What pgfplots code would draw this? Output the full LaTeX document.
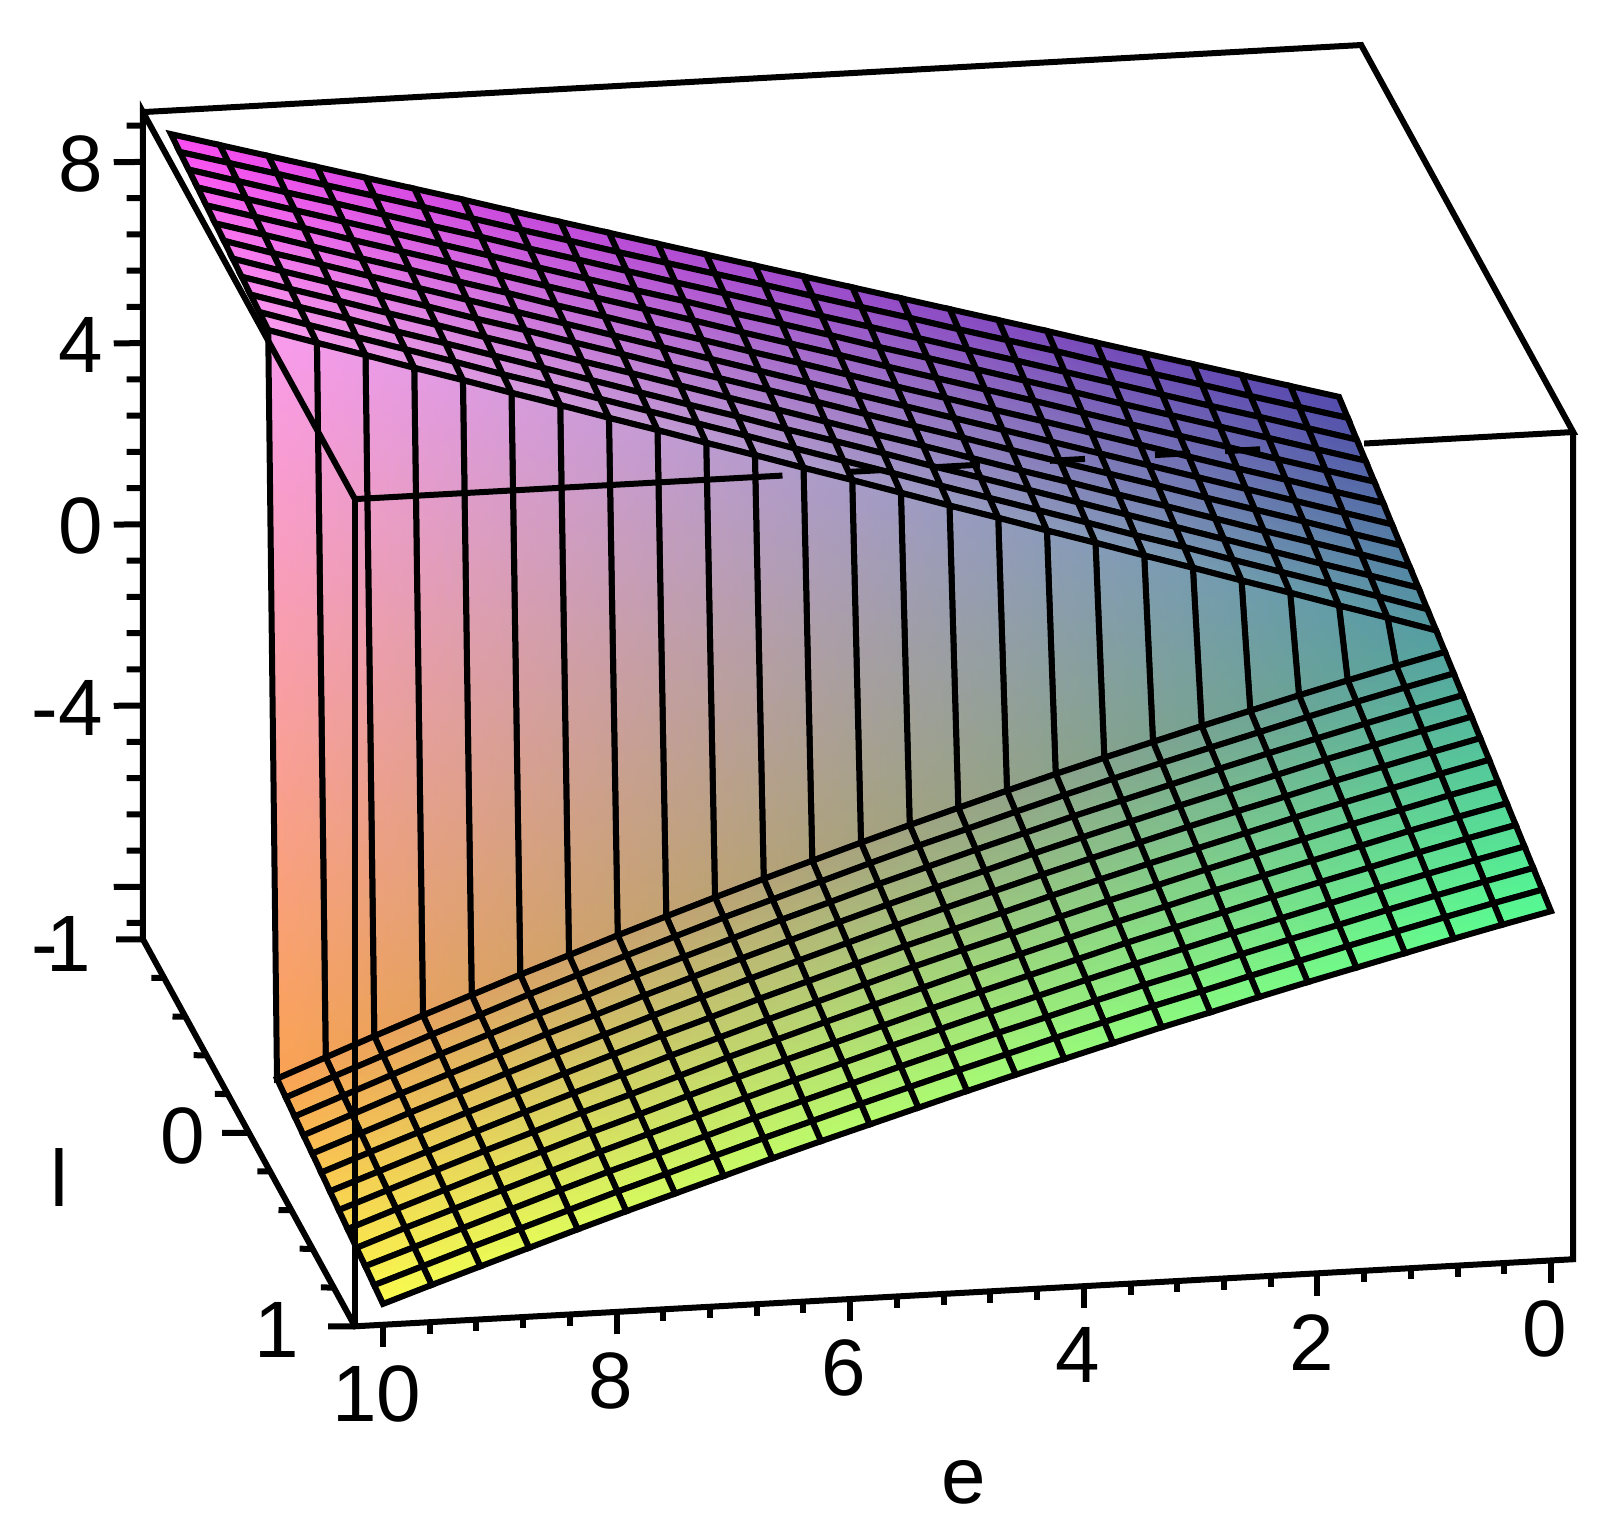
\documentclass[border=0pt]{standalone}
\usepackage{pgfplots}
\pgfplotsset{compat=1.18}
\usepackage{fontspec}
\setmainfont{Liberation Sans}
\begin{document}
\begin{tikzpicture}
\useasboundingbox (0,0) rectangle (807.5pt,768pt);
\begin{axis}[
    at={(722.5pt,442pt)}, anchor=origin,
    x={(-58.4pt,-3.215pt)}, y={(53pt,-96.75pt)}, z={(0pt,22.65pt)},
    xmin=-0.19, xmax=10.24, ymin=-1, ymax=1, zmin=-9.16, zmax=9.1,
    clip=false,
    axis line style={draw=none},
    /pgf/number format/assume math mode=true,
    tick style={draw=none},
    major tick length=0pt,
    xtick={0,2,...,10}, ytick={-1,0,1}, ztick={-8,-4,0,4,8},
    zticklabels={,-4,0,4,8},
    yticklabels={\raisebox{-2pt}{-\kern-6pt 1\hspace{6pt}},\raisebox{-1pt}{0\hspace{2pt}},\raisebox{-1.5pt}{1\hspace{8pt}}},
    tick label style={font=\fontsize{40}{44}\selectfont,inner sep=0pt},
    xticklabel style={anchor=center,xshift=-3pt,yshift=-34.5pt},
    yticklabel style={anchor=base east,xshift=-20pt,yshift=-14.3pt},
    zticklabel style={anchor=east,xshift=-20pt,yshift=-1pt},
    xlabel={e}, ylabel={l},
    label style={font=\fontsize{40}{44}\selectfont,inner sep=0pt},
    xlabel style={at={(rel axis cs:0.5,1,0)},anchor=center,xshift=0pt,yshift=-95pt},
    ylabel style={at={(rel axis cs:1,0.5,0)},anchor=center,rotate=0,xshift=-95pt,yshift=-22.5pt},
    unbounded coords=jump,
]
\addplot3[surf, shader=faceted interp, faceted color=black, line width=3pt,
    mesh/rows=25, mesh/color input=explicit mathparse,
    point meta={symbolic={(85+16.5*x)/255,(162+88*y)/255,(160+9.5*z)/255}}]
table[row sep=\\]{
x y z\\
0 -1 1.36\\0 -0.917 1.25\\0 -0.833 1.13\\0 -0.75 1.02\\0 -0.667 0.91\\0 -0.583 0.80\\0 -0.5 0.68\\0 -0.417 0.57\\0 -0.333 0.46\\0 -0.25 0.35\\0 -0.167 0.23\\0 -0.083 0.12\\0 0 0\\0 0.083 -0.12\\0 0.167 -0.24\\0 0.25 -0.36\\0 0.333 -0.48\\0 0.417 -0.60\\0 0.5 -0.73\\0 0.583 -0.85\\0 0.667 -0.97\\0 0.75 -1.09\\0 0.833 -1.21\\0 0.917 -1.33\\0 1 -1.45\\
0.417 -1 1.66\\0.417 -0.917 1.55\\0.417 -0.833 1.44\\0.417 -0.75 1.33\\0.417 -0.667 1.22\\0.417 -0.583 1.11\\0.417 -0.5 1.00\\0.417 -0.417 0.89\\0.417 -0.333 0.79\\0.417 -0.25 0.68\\0.417 -0.167 0.57\\0.417 -0.083 0.46\\0.417 0 -0.25\\0.417 0.083 -0.37\\0.417 0.167 -0.49\\0.417 0.25 -0.61\\0.417 0.333 -0.73\\0.417 0.417 -0.85\\0.417 0.5 -0.97\\0.417 0.583 -1.09\\0.417 0.667 -1.21\\0.417 0.75 -1.33\\0.417 0.833 -1.45\\0.417 0.917 -1.57\\0.417 1 -1.69\\
0.833 -1 1.96\\0.833 -0.917 1.85\\0.833 -0.833 1.75\\0.833 -0.75 1.64\\0.833 -0.667 1.53\\0.833 -0.583 1.43\\0.833 -0.5 1.32\\0.833 -0.417 1.22\\0.833 -0.333 1.11\\0.833 -0.25 1.00\\0.833 -0.167 0.90\\0.833 -0.083 0.79\\0.833 0 -0.51\\0.833 0.083 -0.63\\0.833 0.167 -0.75\\0.833 0.25 -0.87\\0.833 0.333 -0.99\\0.833 0.417 -1.11\\0.833 0.5 -1.23\\0.833 0.583 -1.34\\0.833 0.667 -1.46\\0.833 0.75 -1.58\\0.833 0.833 -1.70\\0.833 0.917 -1.82\\0.833 1 -1.94\\
1.25 -1 2.26\\1.25 -0.917 2.16\\1.25 -0.833 2.05\\1.25 -0.75 1.95\\1.25 -0.667 1.85\\1.25 -0.583 1.74\\1.25 -0.5 1.64\\1.25 -0.417 1.54\\1.25 -0.333 1.43\\1.25 -0.25 1.33\\1.25 -0.167 1.23\\1.25 -0.083 1.13\\1.25 0 -0.78\\1.25 0.083 -0.90\\1.25 0.167 -1.02\\1.25 0.25 -1.13\\1.25 0.333 -1.25\\1.25 0.417 -1.37\\1.25 0.5 -1.49\\1.25 0.583 -1.61\\1.25 0.667 -1.73\\1.25 0.75 -1.84\\1.25 0.833 -1.96\\1.25 0.917 -2.08\\1.25 1 -2.20\\
1.667 -1 2.56\\1.667 -0.917 2.46\\1.667 -0.833 2.36\\1.667 -0.75 2.26\\1.667 -0.667 2.16\\1.667 -0.583 2.06\\1.667 -0.5 1.96\\1.667 -0.417 1.86\\1.667 -0.333 1.76\\1.667 -0.25 1.66\\1.667 -0.167 1.56\\1.667 -0.083 1.46\\1.667 0 -1.06\\1.667 0.083 -1.18\\1.667 0.167 -1.29\\1.667 0.25 -1.41\\1.667 0.333 -1.53\\1.667 0.417 -1.64\\1.667 0.5 -1.76\\1.667 0.583 -1.88\\1.667 0.667 -1.99\\1.667 0.75 -2.11\\1.667 0.833 -2.23\\1.667 0.917 -2.34\\1.667 1 -2.46\\
2.083 -1 2.86\\2.083 -0.917 2.76\\2.083 -0.833 2.67\\2.083 -0.75 2.57\\2.083 -0.667 2.47\\2.083 -0.583 2.38\\2.083 -0.5 2.28\\2.083 -0.417 2.19\\2.083 -0.333 2.09\\2.083 -0.25 1.99\\2.083 -0.167 1.90\\2.083 -0.083 1.80\\2.083 0 -1.34\\2.083 0.083 -1.46\\2.083 0.167 -1.57\\2.083 0.25 -1.69\\2.083 0.333 -1.80\\2.083 0.417 -1.92\\2.083 0.5 -2.03\\2.083 0.583 -2.15\\2.083 0.667 -2.26\\2.083 0.75 -2.38\\2.083 0.833 -2.49\\2.083 0.917 -2.61\\2.083 1 -2.72\\
2.5 -1 3.17\\2.5 -0.917 3.08\\2.5 -0.833 2.98\\2.5 -0.75 2.89\\2.5 -0.667 2.79\\2.5 -0.583 2.70\\2.5 -0.5 2.60\\2.5 -0.417 2.51\\2.5 -0.333 2.41\\2.5 -0.25 2.32\\2.5 -0.167 2.22\\2.5 -0.083 2.13\\2.5 0 -1.63\\2.5 0.083 -1.74\\2.5 0.167 -1.86\\2.5 0.25 -1.97\\2.5 0.333 -2.08\\2.5 0.417 -2.20\\2.5 0.5 -2.31\\2.5 0.583 -2.42\\2.5 0.667 -2.54\\2.5 0.75 -2.65\\2.5 0.833 -2.76\\2.5 0.917 -2.88\\2.5 1 -2.99\\
2.917 -1 3.47\\2.917 -0.917 3.38\\2.917 -0.833 3.29\\2.917 -0.75 3.20\\2.917 -0.667 3.11\\2.917 -0.583 3.02\\2.917 -0.5 2.92\\2.917 -0.417 2.83\\2.917 -0.333 2.74\\2.917 -0.25 2.65\\2.917 -0.167 2.56\\2.917 -0.083 2.47\\2.917 0 -1.92\\2.917 0.083 -2.03\\2.917 0.167 -2.15\\2.917 0.25 -2.26\\2.917 0.333 -2.37\\2.917 0.417 -2.48\\2.917 0.5 -2.60\\2.917 0.583 -2.71\\2.917 0.667 -2.82\\2.917 0.75 -2.93\\2.917 0.833 -3.05\\2.917 0.917 -3.16\\2.917 1 -3.27\\
3.333 -1 3.77\\3.333 -0.917 3.68\\3.333 -0.833 3.59\\3.333 -0.75 3.51\\3.333 -0.667 3.42\\3.333 -0.583 3.33\\3.333 -0.5 3.24\\3.333 -0.417 3.15\\3.333 -0.333 3.06\\3.333 -0.25 2.98\\3.333 -0.167 2.89\\3.333 -0.083 2.80\\3.333 0 -2.22\\3.333 0.083 -2.33\\3.333 0.167 -2.44\\3.333 0.25 -2.55\\3.333 0.333 -2.66\\3.333 0.417 -2.77\\3.333 0.5 -2.88\\3.333 0.583 -2.99\\3.333 0.667 -3.10\\3.333 0.75 -3.21\\3.333 0.833 -3.32\\3.333 0.917 -3.43\\3.333 1 -3.54\\
3.75 -1 4.07\\3.75 -0.917 3.99\\3.75 -0.833 3.90\\3.75 -0.75 3.82\\3.75 -0.667 3.73\\3.75 -0.583 3.65\\3.75 -0.5 3.56\\3.75 -0.417 3.48\\3.75 -0.333 3.39\\3.75 -0.25 3.31\\3.75 -0.167 3.22\\3.75 -0.083 3.14\\3.75 0 -2.53\\3.75 0.083 -2.64\\3.75 0.167 -2.75\\3.75 0.25 -2.85\\3.75 0.333 -2.96\\3.75 0.417 -3.07\\3.75 0.5 -3.18\\3.75 0.583 -3.29\\3.75 0.667 -3.40\\3.75 0.75 -3.50\\3.75 0.833 -3.61\\3.75 0.917 -3.72\\3.75 1 -3.83\\
4.167 -1 4.37\\4.167 -0.917 4.29\\4.167 -0.833 4.21\\4.167 -0.75 4.12\\4.167 -0.667 4.04\\4.167 -0.583 3.96\\4.167 -0.5 3.88\\4.167 -0.417 3.80\\4.167 -0.333 3.72\\4.167 -0.25 3.63\\4.167 -0.167 3.55\\4.167 -0.083 3.47\\4.167 0 -2.85\\4.167 0.083 -2.96\\4.167 0.167 -3.06\\4.167 0.25 -3.17\\4.167 0.333 -3.27\\4.167 0.417 -3.38\\4.167 0.5 -3.49\\4.167 0.583 -3.59\\4.167 0.667 -3.70\\4.167 0.75 -3.80\\4.167 0.833 -3.91\\4.167 0.917 -4.01\\4.167 1 -4.12\\
4.583 -1 4.67\\4.583 -0.917 4.59\\4.583 -0.833 4.51\\4.583 -0.75 4.44\\4.583 -0.667 4.36\\4.583 -0.583 4.28\\4.583 -0.5 4.20\\4.583 -0.417 4.12\\4.583 -0.333 4.04\\4.583 -0.25 3.97\\4.583 -0.167 3.89\\4.583 -0.083 3.81\\4.583 0 -3.17\\4.583 0.083 -3.27\\4.583 0.167 -3.38\\4.583 0.25 -3.48\\4.583 0.333 -3.58\\4.583 0.417 -3.69\\4.583 0.5 -3.79\\4.583 0.583 -3.89\\4.583 0.667 -4.00\\4.583 0.75 -4.10\\4.583 0.833 -4.20\\4.583 0.917 -4.31\\4.583 1 -4.41\\
5 -1 4.97\\5 -0.917 4.90\\5 -0.833 4.82\\5 -0.75 4.75\\5 -0.667 4.67\\5 -0.583 4.60\\5 -0.5 4.52\\5 -0.417 4.45\\5 -0.333 4.37\\5 -0.25 4.30\\5 -0.167 4.22\\5 -0.083 4.15\\5 0 -3.50\\5 0.083 -3.60\\5 0.167 -3.70\\5 0.25 -3.80\\5 0.333 -3.90\\5 0.417 -4.00\\5 0.5 -4.10\\5 0.583 -4.21\\5 0.667 -4.31\\5 0.75 -4.41\\5 0.833 -4.51\\5 0.917 -4.61\\5 1 -4.71\\
5.417 -1 5.27\\5.417 -0.917 5.20\\5.417 -0.833 5.13\\5.417 -0.75 5.05\\5.417 -0.667 4.98\\5.417 -0.583 4.91\\5.417 -0.5 4.84\\5.417 -0.417 4.77\\5.417 -0.333 4.70\\5.417 -0.25 4.62\\5.417 -0.167 4.55\\5.417 -0.083 4.48\\5.417 0 -3.84\\5.417 0.083 -3.94\\5.417 0.167 -4.04\\5.417 0.25 -4.13\\5.417 0.333 -4.23\\5.417 0.417 -4.33\\5.417 0.5 -4.43\\5.417 0.583 -4.53\\5.417 0.667 -4.63\\5.417 0.75 -4.72\\5.417 0.833 -4.82\\5.417 0.917 -4.92\\5.417 1 -5.02\\
5.833 -1 5.57\\5.833 -0.917 5.50\\5.833 -0.833 5.43\\5.833 -0.75 5.37\\5.833 -0.667 5.30\\5.833 -0.583 5.23\\5.833 -0.5 5.16\\5.833 -0.417 5.09\\5.833 -0.333 5.02\\5.833 -0.25 4.96\\5.833 -0.167 4.89\\5.833 -0.083 4.82\\5.833 0 -4.18\\5.833 0.083 -4.28\\5.833 0.167 -4.37\\5.833 0.25 -4.47\\5.833 0.333 -4.56\\5.833 0.417 -4.66\\5.833 0.5 -4.76\\5.833 0.583 -4.85\\5.833 0.667 -4.95\\5.833 0.75 -5.04\\5.833 0.833 -5.14\\5.833 0.917 -5.23\\5.833 1 -5.33\\
6.25 -1 5.87\\6.25 -0.917 5.80\\6.25 -0.833 5.74\\6.25 -0.75 5.67\\6.25 -0.667 5.61\\6.25 -0.583 5.54\\6.25 -0.5 5.48\\6.25 -0.417 5.41\\6.25 -0.333 5.35\\6.25 -0.25 5.28\\6.25 -0.167 5.22\\6.25 -0.083 5.15\\6.25 0 -4.53\\6.25 0.083 -4.62\\6.25 0.167 -4.72\\6.25 0.25 -4.81\\6.25 0.333 -4.90\\6.25 0.417 -4.99\\6.25 0.5 -5.09\\6.25 0.583 -5.18\\6.25 0.667 -5.27\\6.25 0.75 -5.36\\6.25 0.833 -5.46\\6.25 0.917 -5.55\\6.25 1 -5.64\\
6.667 -1 6.17\\6.667 -0.917 6.11\\6.667 -0.833 6.05\\6.667 -0.75 5.98\\6.667 -0.667 5.92\\6.667 -0.583 5.86\\6.667 -0.5 5.80\\6.667 -0.417 5.74\\6.667 -0.333 5.68\\6.667 -0.25 5.61\\6.667 -0.167 5.55\\6.667 -0.083 5.49\\6.667 0 -4.89\\6.667 0.083 -4.98\\6.667 0.167 -5.07\\6.667 0.25 -5.16\\6.667 0.333 -5.25\\6.667 0.417 -5.34\\6.667 0.5 -5.43\\6.667 0.583 -5.51\\6.667 0.667 -5.60\\6.667 0.75 -5.69\\6.667 0.833 -5.78\\6.667 0.917 -5.87\\6.667 1 -5.96\\
7.083 -1 6.47\\7.083 -0.917 6.41\\7.083 -0.833 6.35\\7.083 -0.75 6.29\\7.083 -0.667 6.23\\7.083 -0.583 6.17\\7.083 -0.5 6.12\\7.083 -0.417 6.06\\7.083 -0.333 6.00\\7.083 -0.25 5.94\\7.083 -0.167 5.88\\7.083 -0.083 5.82\\7.083 0 -5.25\\7.083 0.083 -5.34\\7.083 0.167 -5.42\\7.083 0.25 -5.51\\7.083 0.333 -5.60\\7.083 0.417 -5.68\\7.083 0.5 -5.77\\7.083 0.583 -5.86\\7.083 0.667 -5.94\\7.083 0.75 -6.03\\7.083 0.833 -6.12\\7.083 0.917 -6.20\\7.083 1 -6.29\\
7.5 -1 6.78\\7.5 -0.917 6.72\\7.5 -0.833 6.67\\7.5 -0.75 6.61\\7.5 -0.667 6.55\\7.5 -0.583 6.50\\7.5 -0.5 6.44\\7.5 -0.417 6.39\\7.5 -0.333 6.33\\7.5 -0.25 6.27\\7.5 -0.167 6.22\\7.5 -0.083 6.16\\7.5 0 -5.63\\7.5 0.083 -5.71\\7.5 0.167 -5.80\\7.5 0.25 -5.88\\7.5 0.333 -5.96\\7.5 0.417 -6.04\\7.5 0.5 -6.13\\7.5 0.583 -6.21\\7.5 0.667 -6.29\\7.5 0.75 -6.37\\7.5 0.833 -6.46\\7.5 0.917 -6.54\\7.5 1 -6.62\\
7.917 -1 7.08\\7.917 -0.917 7.03\\7.917 -0.833 6.97\\7.917 -0.75 6.92\\7.917 -0.667 6.87\\7.917 -0.583 6.81\\7.917 -0.5 6.76\\7.917 -0.417 6.70\\7.917 -0.333 6.65\\7.917 -0.25 6.60\\7.917 -0.167 6.54\\7.917 -0.083 6.49\\7.917 0 -6.00\\7.917 0.083 -6.08\\7.917 0.167 -6.16\\7.917 0.25 -6.24\\7.917 0.333 -6.32\\7.917 0.417 -6.40\\7.917 0.5 -6.48\\7.917 0.583 -6.55\\7.917 0.667 -6.63\\7.917 0.75 -6.71\\7.917 0.833 -6.79\\7.917 0.917 -6.87\\7.917 1 -6.95\\
8.333 -1 7.38\\8.333 -0.917 7.33\\8.333 -0.833 7.28\\8.333 -0.75 7.23\\8.333 -0.667 7.18\\8.333 -0.583 7.13\\8.333 -0.5 7.08\\8.333 -0.417 7.03\\8.333 -0.333 6.98\\8.333 -0.25 6.93\\8.333 -0.167 6.88\\8.333 -0.083 6.83\\8.333 0 -6.39\\8.333 0.083 -6.47\\8.333 0.167 -6.54\\8.333 0.25 -6.62\\8.333 0.333 -6.69\\8.333 0.417 -6.77\\8.333 0.5 -6.84\\8.333 0.583 -6.92\\8.333 0.667 -6.99\\8.333 0.75 -7.07\\8.333 0.833 -7.14\\8.333 0.917 -7.22\\8.333 1 -7.29\\
8.75 -1 7.68\\8.75 -0.917 7.63\\8.75 -0.833 7.59\\8.75 -0.75 7.54\\8.75 -0.667 7.49\\8.75 -0.583 7.44\\8.75 -0.5 7.40\\8.75 -0.417 7.35\\8.75 -0.333 7.30\\8.75 -0.25 7.25\\8.75 -0.167 7.21\\8.75 -0.083 7.16\\8.75 0 -6.78\\8.75 0.083 -6.85\\8.75 0.167 -6.92\\8.75 0.25 -7.00\\8.75 0.333 -7.07\\8.75 0.417 -7.14\\8.75 0.5 -7.21\\8.75 0.583 -7.28\\8.75 0.667 -7.35\\8.75 0.75 -7.43\\8.75 0.833 -7.50\\8.75 0.917 -7.57\\8.75 1 -7.64\\
9.167 -1 7.98\\9.167 -0.917 7.94\\9.167 -0.833 7.89\\9.167 -0.75 7.85\\9.167 -0.667 7.81\\9.167 -0.583 7.76\\9.167 -0.5 7.72\\9.167 -0.417 7.67\\9.167 -0.333 7.63\\9.167 -0.25 7.59\\9.167 -0.167 7.54\\9.167 -0.083 7.50\\9.167 0 -7.18\\9.167 0.083 -7.25\\9.167 0.167 -7.32\\9.167 0.25 -7.38\\9.167 0.333 -7.45\\9.167 0.417 -7.52\\9.167 0.5 -7.59\\9.167 0.583 -7.65\\9.167 0.667 -7.72\\9.167 0.75 -7.79\\9.167 0.833 -7.86\\9.167 0.917 -7.92\\9.167 1 -7.99\\
9.583 -1 8.28\\9.583 -0.917 8.24\\9.583 -0.833 8.20\\9.583 -0.75 8.16\\9.583 -0.667 8.12\\9.583 -0.583 8.08\\9.583 -0.5 8.03\\9.583 -0.417 7.99\\9.583 -0.333 7.95\\9.583 -0.25 7.91\\9.583 -0.167 7.87\\9.583 -0.083 7.83\\9.583 0 -7.59\\9.583 0.083 -7.65\\9.583 0.167 -7.72\\9.583 0.25 -7.78\\9.583 0.333 -7.84\\9.583 0.417 -7.90\\9.583 0.5 -7.97\\9.583 0.583 -8.03\\9.583 0.667 -8.09\\9.583 0.75 -8.15\\9.583 0.833 -8.22\\9.583 0.917 -8.28\\9.583 1 -8.34\\
10 -1 8.58\\10 -0.917 8.54\\10 -0.833 8.51\\10 -0.75 8.47\\10 -0.667 8.43\\10 -0.583 8.39\\10 -0.5 8.36\\10 -0.417 8.32\\10 -0.333 8.28\\10 -0.25 8.24\\10 -0.167 8.21\\10 -0.083 8.17\\10 0 -8.00\\10 0.083 -8.06\\10 0.167 -8.12\\10 0.25 -8.18\\10 0.333 -8.23\\10 0.417 -8.29\\10 0.5 -8.35\\10 0.583 -8.41\\10 0.667 -8.47\\10 0.75 -8.53\\10 0.833 -8.58\\10 0.917 -8.64\\10 1 -8.70\\
};
% box edges
\addplot3[black,line width=3pt,line join=miter] coordinates {
(10.24,-1,9.1) (-0.19,-1,9.1) (-0.19,1,9.1) (1.6,1,9.1)};
\addplot3[black,line width=3pt,line join=miter] coordinates {
(6.58,1,9.1) (10.24,1,9.1) (10.24,-1,9.1) (10.24,-1,-9.16) (10.24,1,-9.16) (-0.19,1,-9.16) (-0.19,1,9.1)};
% front top edge, where it shows through the upper sheet
\addplot3[black,line width=3pt] coordinates {
(6.00,1,9.1)(5.74,1,9.1)(nan,nan,nan)
(5.27,1,9.1)(4.89,1,9.1)(nan,nan,nan)
(4.29,1,9.1)(3.99,1,9.1)(nan,nan,nan)
(3.39,1,9.1)(3.09,1,9.1)(nan,nan,nan)
(2.79,1,9.1)(2.49,1,9.1)
};
\addplot3[black,line width=3pt] coordinates {(10.24,1,9.1) (10.24,1,-9.16)};
% z ticks
\addplot3[black,line width=3pt] coordinates {
(10.24,-1,8.8)(10.38,-1,8.82)(nan,nan,nan)
(10.24,-1,8)(10.49,-1,8.03)(nan,nan,nan)
(10.24,-1,7.2)(10.38,-1,7.22)(nan,nan,nan)
(10.24,-1,6.4)(10.38,-1,6.42)(nan,nan,nan)
(10.24,-1,5.6)(10.38,-1,5.62)(nan,nan,nan)
(10.24,-1,4.8)(10.38,-1,4.82)(nan,nan,nan)
(10.24,-1,4)(10.49,-1,4.03)(nan,nan,nan)
(10.24,-1,3.2)(10.38,-1,3.22)(nan,nan,nan)
(10.24,-1,2.4)(10.38,-1,2.42)(nan,nan,nan)
(10.24,-1,1.6)(10.38,-1,1.62)(nan,nan,nan)
(10.24,-1,0.8)(10.38,-1,0.82)(nan,nan,nan)
(10.24,-1,0)(10.49,-1,0.03)(nan,nan,nan)
(10.24,-1,-0.8)(10.38,-1,-0.78)(nan,nan,nan)
(10.24,-1,-1.6)(10.38,-1,-1.58)(nan,nan,nan)
(10.24,-1,-2.4)(10.38,-1,-2.38)(nan,nan,nan)
(10.24,-1,-3.2)(10.38,-1,-3.18)(nan,nan,nan)
(10.24,-1,-4)(10.49,-1,-3.97)(nan,nan,nan)
(10.24,-1,-4.8)(10.38,-1,-4.78)(nan,nan,nan)
(10.24,-1,-5.6)(10.38,-1,-5.58)(nan,nan,nan)
(10.24,-1,-6.4)(10.38,-1,-6.38)(nan,nan,nan)
(10.24,-1,-7.2)(10.38,-1,-7.18)(nan,nan,nan)
(10.24,-1,-8)(10.49,-1,-7.97)(nan,nan,nan)
(10.24,-1,-8.8)(10.38,-1,-8.78)
};
% l ticks
\addplot3[black,line width=3pt] coordinates {
(10.24,-1,-9.16)(10.47,-1,-9.13)(nan,nan,nan)
(10.24,-0.8,-9.16)(10.35,-0.8,-9.14)(nan,nan,nan)
(10.24,-0.6,-9.16)(10.35,-0.6,-9.14)(nan,nan,nan)
(10.24,-0.4,-9.16)(10.35,-0.4,-9.14)(nan,nan,nan)
(10.24,-0.2,-9.16)(10.35,-0.2,-9.14)(nan,nan,nan)
(10.24,0,-9.16)(10.47,0,-9.13)(nan,nan,nan)
(10.24,0.2,-9.16)(10.35,0.2,-9.14)(nan,nan,nan)
(10.24,0.4,-9.16)(10.35,0.4,-9.14)(nan,nan,nan)
(10.24,0.6,-9.16)(10.35,0.6,-9.14)(nan,nan,nan)
(10.24,0.8,-9.16)(10.35,0.8,-9.14)(nan,nan,nan)
(10.24,1,-9.16)(10.47,1,-9.13)
};
% e ticks
\addplot3[black,line width=3pt] coordinates {
(0,1,-9.16)(0,1,-9.65)(nan,nan,nan)(0.4,1,-9.16)(0.4,1,-9.41)(nan,nan,nan)(0.8,1,-9.16)(0.8,1,-9.41)(nan,nan,nan)(1.2,1,-9.16)(1.2,1,-9.41)(nan,nan,nan)(1.6,1,-9.16)(1.6,1,-9.41)(nan,nan,nan)
(2,1,-9.16)(2,1,-9.65)(nan,nan,nan)(2.4,1,-9.16)(2.4,1,-9.41)(nan,nan,nan)(2.8,1,-9.16)(2.8,1,-9.41)(nan,nan,nan)(3.2,1,-9.16)(3.2,1,-9.41)(nan,nan,nan)(3.6,1,-9.16)(3.6,1,-9.41)(nan,nan,nan)
(4,1,-9.16)(4,1,-9.65)(nan,nan,nan)(4.4,1,-9.16)(4.4,1,-9.41)(nan,nan,nan)(4.8,1,-9.16)(4.8,1,-9.41)(nan,nan,nan)(5.2,1,-9.16)(5.2,1,-9.41)(nan,nan,nan)(5.6,1,-9.16)(5.6,1,-9.41)(nan,nan,nan)
(6,1,-9.16)(6,1,-9.65)(nan,nan,nan)(6.4,1,-9.16)(6.4,1,-9.41)(nan,nan,nan)(6.8,1,-9.16)(6.8,1,-9.41)(nan,nan,nan)(7.2,1,-9.16)(7.2,1,-9.41)(nan,nan,nan)(7.6,1,-9.16)(7.6,1,-9.41)(nan,nan,nan)
(8,1,-9.16)(8,1,-9.65)(nan,nan,nan)(8.4,1,-9.16)(8.4,1,-9.41)(nan,nan,nan)(8.8,1,-9.16)(8.8,1,-9.41)(nan,nan,nan)(9.2,1,-9.16)(9.2,1,-9.41)(nan,nan,nan)(9.6,1,-9.16)(9.6,1,-9.41)(nan,nan,nan)
(10,1,-9.16)(10,1,-9.65)
};
\end{axis}
\end{tikzpicture}
\end{document}
